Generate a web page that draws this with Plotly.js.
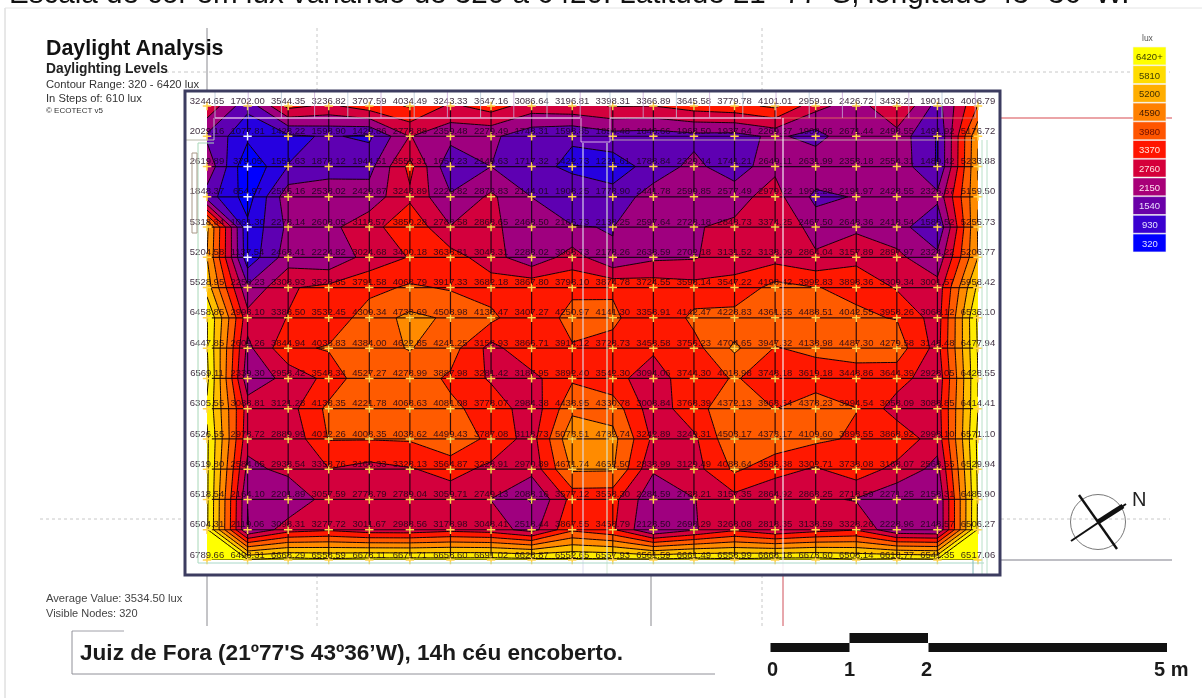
<!DOCTYPE html>
<html><head><meta charset="utf-8">
<script src="https://cdn.plot.ly/plotly-3.0.1.min.js"></script>
<style>html,body{margin:0;padding:0;background:#fff;overflow:hidden}#c{width:1202px;height:698px;filter:blur(0.45px)}</style>
</head><body><div id="c"></div>
<script>
const row00=[3244.65,1702.00,3544.35,3236.82,3707.59,4034.49,3243.33,3647.16,3086.64,3196.81,3398.31,3366.89,3645.58,3779.78,4101.01,2959.16,2426.72,3433.21,1901.03,4006.79];
const row01=[2029.16,1077.81,1428.22,1598.90,1429.86,2778.88,2359.48,2279.49,1748.31,1598.85,1894.48,1846.66,1968.50,1937.64,2269.27,1908.66,2671.44,2498.55,1491.92,5176.72];
const row02=[2619.89,379.05,1551.63,1878.12,1944.51,3552.31,1657.23,2149.63,1717.32,1422.73,1221.61,1788.84,2329.14,1741.21,2649.11,2631.99,2353.18,2554.31,1489.42,5233.88];
const row03=[1848.37,654.97,2555.16,2538.02,2429.87,3243.89,2229.82,2873.83,2144.01,1908.25,1773.90,2441.78,2599.85,2577.49,2979.22,1992.28,2191.97,2428.55,2325.67,5159.50];
const row04=[5318.34,1061.30,2278.14,2608.05,3118.57,3850.28,2788.58,2868.65,2468.50,2166.73,2138.25,2597.64,2728.18,2848.73,3374.25,2467.50,2648.36,2418.54,1586.52,5255.73];
const row05=[5204.58,1137.54,2463.41,2224.82,3024.68,3400.18,3638.81,3043.31,2283.02,3068.73,2178.26,2638.59,2702.18,3131.52,3138.09,2864.04,3157.89,2897.97,2324.22,5206.77];
const row06=[5528.95,2258.23,3308.93,3528.65,3791.58,4068.79,3917.33,3682.18,3867.80,3798.10,3874.78,3724.55,3598.14,3547.22,4198.42,3992.83,3898.36,3309.34,3001.57,5958.42];
const row07=[6458.85,2993.10,3388.50,3532.45,4309.34,4733.69,4508.98,4138.47,3407.27,4250.97,4141.30,3358.91,4142.47,4228.83,4361.55,4488.51,4042.55,3958.26,3068.12,6535.10];
const row08=[6447.85,2602.26,3844.94,4038.83,4384.00,4622.85,4241.25,3158.93,3866.71,3914.12,3728.73,3458.58,3756.23,4704.65,3947.32,4138.98,4487.30,4279.58,3148.48,6477.94];
const row09=[6569.11,2339.30,2958.42,3548.34,4527.27,4278.99,3887.98,3281.42,3187.95,3892.40,3542.30,3094.06,3744.30,4018.98,3748.18,3619.18,3448.86,3644.39,2928.05,6428.55];
const row10=[6305.55,3088.81,3121.28,4138.35,4221.78,4068.63,4081.08,3778.07,2984.38,4438.95,4330.78,3008.84,3768.39,4372.13,3963.54,4378.23,3994.54,3058.09,3088.85,6414.41];
const row11=[6526.55,2978.72,2889.99,4012.26,4008.35,4038.62,4499.43,3787.08,3118.73,5073.51,4782.74,3242.89,3249.31,4503.17,4373.17,4109.60,3893.55,3868.92,2998.10,6571.10];
const row12=[6519.80,2584.65,2938.54,3358.76,3166.33,3328.13,3564.87,3228.91,2970.89,4671.74,4652.50,2838.99,3129.49,4088.64,3586.38,3302.71,3738.08,3168.07,2568.55,6529.94];
const row13=[6518.54,2164.10,2201.89,3057.59,2778.79,2789.04,3059.71,2749.13,2088.16,3577.12,3558.30,2284.59,2738.21,3157.35,2864.92,2863.25,2718.59,2271.25,2158.31,6485.90];
const row14=[6504.31,2119.06,3098.31,3277.72,3011.67,2988.56,3178.98,3048.41,2518.44,3867.55,3458.79,2123.50,2698.29,3268.08,2818.35,3138.59,3328.26,2228.96,2148.57,6506.27];
const row15=[6789.66,6498.31,6668.29,6558.59,6678.11,6671.71,6658.60,6691.02,6628.87,6552.65,6557.93,6561.59,6661.49,6558.99,6668.18,6673.60,6508.14,6618.77,6541.35,6517.06];
const levels=[320,930,1540,2150,2760,3370,3980,4590,5200,5810,6420];
const levelColors=['#0000ff','#3a00d0','#6a00a8','#a80078','#d5003a','#ff1500','#ff5500','#ff8000','#ffae00','#ffdc00','#ffff00'];
const levelTextColors=['#dfe0ff','#e8e0ff','#eadcff','#ffe0f0','#ffe0e0','#ffe8e0','#701000','#401800','#403000','#404000','#404000'];
const z=[row00,row01,row02,row03,row04,row05,row06,row07,row08,row09,row10,row11,row12,row13,row14,row15];

const nx=z[0].length, ny=z.length;
const xs=z[0].map((_,i)=>i), ys=z.map((_,j)=>j);
const X=p=>(p-207)/771, Y=p=>1-(p-106)/454;

const cs=[[0,levelColors[0]]].concat(levelColors.map((c,k)=>[(k+1)/levels.length,c]));

const px=[],py=[],pt=[],pc=[];
z.forEach((r,j)=>r.forEach((v,i)=>{px.push(i);py.push(j);pt.push(v.toFixed(2));pc.push(v<1200?'#f0f0ff':'#ffd24a');}));
const gx=[],gy=[];
ys.forEach(j=>{ if(j>0){gx.push(0.12,nx-1.12,null);gy.push(j,j,null);} });
xs.forEach(i=>{ if(i>0&&i<nx-1){gx.push(i,i,null);gy.push(0,ny-1+0.1,null);} });

const traces=[
 {type:'contour',x:xs,y:ys,z:z,autocontour:false,zmin:320,zmax:6420,
  contours:{start:levels[0],end:levels[levels.length-1],size:levels[1]-levels[0],coloring:'fill',showlines:true},
  line:{color:'#140008',width:1,smoothing:0},colorscale:cs,showscale:false,hoverinfo:'skip'},
 {type:'scatter',mode:'lines',x:gx,y:gy,line:{color:'rgba(10,0,10,0.85)',width:1.2},hoverinfo:'skip',cliponaxis:false,showlegend:false},
 {type:'scatter',mode:'markers',x:px,y:py,marker:{symbol:'cross-thin',size:6,line:{color:pc,width:1.5}},hoverinfo:'skip',cliponaxis:false,showlegend:false},
 {type:'scatter',mode:'text',x:px,y:py,text:pt,textposition:'top center',textfont:{family:'Liberation Sans',size:9.5,color:'rgba(25,5,25,0.85)'},hoverinfo:'skip',cliponaxis:false,showlegend:false}
];

const shapes=[];
const seg=(x0,y0,x1,y1,color,width,dash,layer)=>shapes.push({type:'line',xref:'paper',yref:'paper',x0:X(x0),y0:Y(y0),x1:X(x1),y1:Y(y1),line:{color,width,dash:dash||'solid'},layer:layer||'above'});
const box=(x0,y0,x1,y1,fill,lc,lw,layer)=>shapes.push({type:'rect',xref:'paper',yref:'paper',x0:X(x0),y0:Y(y0),x1:X(x1),y1:Y(y1),fillcolor:fill,line:{color:lc||fill,width:lw||0},layer:layer||'above'});

seg(5,8,5,698,'#d0d0d0',1); seg(5,8,1202,8,'#e4e4e4',1);
seg(207,28,207,91,'#8a8a90',1); seg(207,575,207,626,'#8a8a90',1);
seg(651,575,651,626,'#8a8a90',1);
seg(783,575,783,626,'#d0505a',1);
seg(1001,560,1172,560,'#a8a8b0',1.3);
seg(1001,118,1172,118,'#d84a50',1.2);
const dots='#c8c8c8';
seg(317,28,317,91,dots,1,'dot'); seg(317,575,317,626,dots,1,'dot');
seg(762,28,762,91,dots,1,'dot'); seg(762,575,762,626,dots,1,'dot');
seg(46,72,185,72,dots,1,'dot'); seg(185,72,1170,72,dots,1,'dot');
seg(40,519,185,519,dots,1,'dot'); seg(1001,519,1170,519,dots,1,'dot');
const pale='rgba(235,205,235,0.85)';
seg(215,118,580,118,pale,1.5); seg(610,118,781,118,pale,1.5); seg(781,118,975,118,'#e0605a',1.2);
for(let k=0;k<=11;k++){const a=215+33.2*k; seg(a,92,a,118,k%2?'#c8a8d8':'#b8c8d8',0.8); const b=610+33.2*k; seg(b,92,b,118,k%2?'#c8a8d8':'#b8c8d8',0.8);}
seg(185,140,214,140,'#b8b8a8',1); seg(214,118,214,140,'#b8b8c8',1);
seg(610,140,975,140,'rgba(200,200,170,0.8)',1); seg(581,118,581,142,pale,1); seg(581,142,610,142,pale,1); seg(610,118,610,142,pale,1);
seg(583,143,583,575,'rgba(225,225,240,0.85)',1.3); seg(607,143,607,575,'rgba(215,235,215,0.85)',1.3);
seg(783,118,783,575,'rgba(245,240,245,0.9)',1.3);
seg(198,143,198,563,'#a8d8b8',1); seg(198,143,214,143,'#a8d8b8',1); seg(198,563,984,563,'#a8d8c8',1);
seg(982,140,982,575,'#b8e0c8',1); seg(987,140,987,575,'#b8e0c8',1); seg(973,560,973,575,'#80b8b8',1);
box(192,153,197,233,'rgba(0,0,0,0)','#a89888',1);
box(185,91,1000,575,'rgba(0,0,0,0)','#3c3c60',3);
const swH=18.7, swTop=47;
levels.slice().reverse().forEach((l,i)=>{
  const c=levelColors[levelColors.length-1-i];
  box(1133,swTop+i*swH,1166,swTop+(i+1)*swH-0.8,c,'#f4f4f4',0.6);
});
box(770.5,643,849.5,652,'#111111'); box(849.5,633,928,643,'#111111'); box(928.5,643,1167,652,'#111111');
shapes.push({type:'circle',xref:'paper',yref:'paper',x0:X(1070.5),y0:Y(494.5),x1:X(1125.5),y1:Y(549.5),line:{color:'#555',width:0.8}});
seg(1071,541,1126,504,'#111',2); seg(1098,522,1123,506,'#111',5); seg(1079,495,1117,549,'#111',2.4);
seg(72,631,124,631,'#a0a0a8',1); seg(72,631,72,674,'#909098',1); seg(72,674,715,674,'#909098',1);

const A=(x,y,text,size,color,bold,anchor,fam)=>({xref:'paper',yref:'paper',x:X(x),y:Y(y),text:bold?'<b>'+text+'</b>':text,showarrow:false,xanchor:anchor||'left',yanchor:'middle',font:{family:fam||'Liberation Sans',size,color},borderpad:0,borderwidth:0});
const annotations=[
 A(9,-8,"Escala de cor em lux variando de 320 a 6420. Latitude 21º 77' S, longitude 43º 36' W.",29.6,'#111'),
 A(46,48,'Daylight Analysis',21.4,'#111',true),
 A(46,69,'Daylighting Levels',13.8,'#222',true),
 A(46,84,'Contour Range: 320 - 6420 lux',11.2,'#333'),
 A(46,98,'In Steps of: 610 lux',11.2,'#333'),
 A(46,111,'© ECOTECT v5',8,'#333'),
 A(46,598,'Average Value: 3534.50 lux',11.2,'#444'),
 A(46,613,'Visible Nodes: 320',11,'#444'),
 A(80,652,'Juiz de Fora (21º77\'S 43º36’W), 14h céu encoberto.',22.6,'#1a1a1a',true),
 A(1148,38,'lux',8.5,'#555',false,'center'),
 A(772,669,'0',20,'#1a1a1a',true,'center'),
 A(849,669,'1',20,'#1a1a1a',true,'center'),
 A(926,669,'2',20,'#1a1a1a',true,'center'),
 A(1171,669,'5 m',20,'#1a1a1a',true,'center'),
 A(1139,499,'N',20,'#222',false,'center')
];
levels.slice().reverse().forEach((l,i)=>{
  const tc=levelTextColors[levelTextColors.length-1-i];
  annotations.push(A(1149.5,swTop+(i+0.5)*swH,i===0?l+'+':String(l),9.5,tc,false,'center'));
});

const layout={width:1202,height:698,autosize:false,paper_bgcolor:'#fff',plot_bgcolor:'#fff',showlegend:false,
 margin:{l:207,r:224,t:106,b:138,pad:0},
 xaxis:{range:[0,nx-1],visible:false,fixedrange:true},
 yaxis:{range:[ny-1,0],visible:false,fixedrange:true},
 shapes,annotations};
Plotly.newPlot('c',traces,layout,{displayModeBar:false,staticPlot:true});
</script></body></html>
